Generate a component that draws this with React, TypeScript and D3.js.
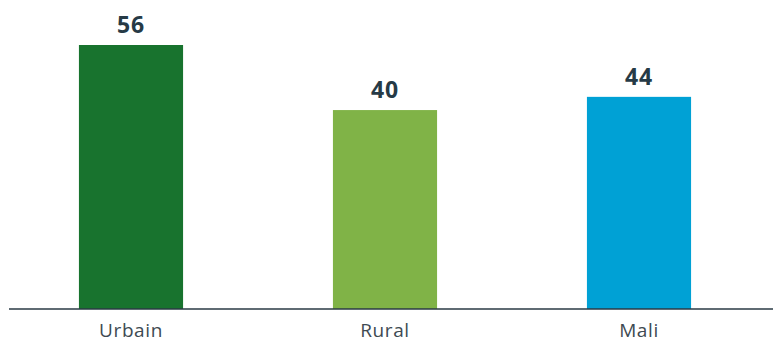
import React from "react";
import * as d3 from "d3";

const categories = ["Urbain", "Rural", "Mali"];
// bar heights as drawn in the picture (value axis units)
const barValues = [56, 42.2, 45.0];
// printed labels
const valueLabels = ["56", "40", "44"];
const colors = ["#18732e", "#80b347", "#00a1d5"];

const W = 773;
const H = 342;

export default function App() {
  const x = d3
    .scaleBand<string>()
    .domain(categories)
    .range([4, 766])
    .paddingInner(0.59)
    .paddingOuter(0.295);
  const y = d3.scaleLinear().domain([0, 56]).range([309, 45]);

  return (
    <svg
      width={W}
      height={H}
      style={{ position: "absolute", left: 0, top: 0, background: "#fff" }}
      fontFamily="'Open Sans', sans-serif"
    >
      {categories.map((c, i) => (
        <g key={c}>
          <rect
            x={x(c)!}
            y={y(barValues[i])}
            width={x.bandwidth()}
            height={y(0) - y(barValues[i])}
            fill={colors[i]}
          />
          <text
            x={x(c)! + x.bandwidth() / 2}
            y={y(barValues[i]) - 12}
            textAnchor="middle"
            fontSize={23}
            fontWeight={700}
            fill="#263a46"
            letterSpacing={0.8}
          >
            {valueLabels[i]}
          </text>
          <text
            x={x(c)! + x.bandwidth() / 2}
            y={336.5}
            textAnchor="middle"
            fontSize={19}
            fill="#3e4a52"
            letterSpacing={0.6}
          >
            {c}
          </text>
        </g>
      ))}
      <line x1={9} x2={773} y1={309} y2={309} stroke="#2a3a44" strokeWidth={1.5} />
    </svg>
  );
}
